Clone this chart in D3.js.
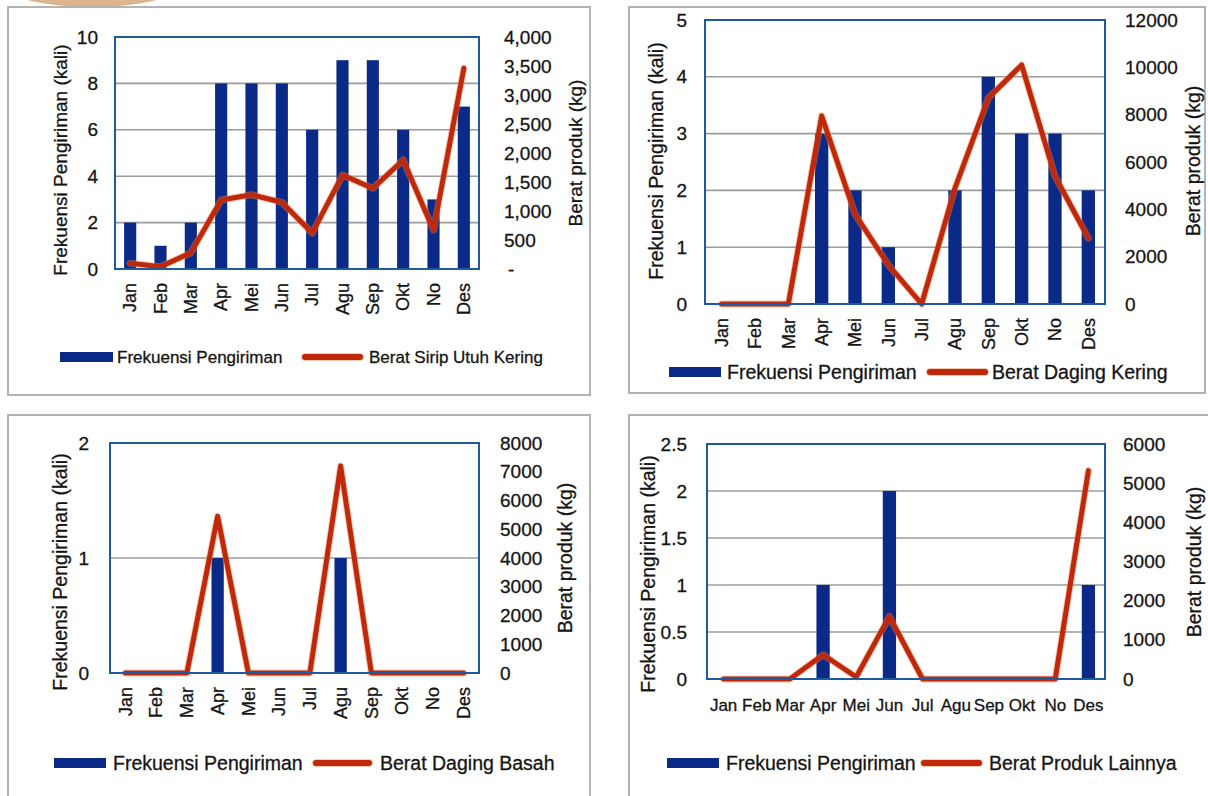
<!DOCTYPE html>
<html>
<head>
<meta charset="utf-8">
<script src="https://cdn.jsdelivr.net/npm/d3@7"></script>
<style>
  html, body { margin: 0; padding: 0; background: #ffffff; }
  svg text { font-family: "Liberation Sans", Arial, sans-serif; fill: #151515; stroke: #151515; stroke-width: 0.3px; }
</style>
</head>
<body>
<svg id="chart" width="1208" height="796"></svg>
<script>
// ---------------- DATA ----------------
const months = ["Jan","Feb","Mar","Apr","Mei","Jun","Jul","Agu","Sep","Okt","No","Des"];

const freqSirip = [2,1,2,8,8,8,6,9,9,6,3,7];
const beratSirip = [100,40,280,1190,1280,1150,620,1620,1390,1880,670,3460];

const freqDagingKering = [0,0,0,3,2,1,0,2,4,3,3,2];
const beratDagingKering = [0,0,0,7950,3800,1650,0,4900,8700,10100,5400,2780];

const freqDagingBasah = [0,0,0,1,0,0,0,1,0,0,0,0];
const beratDagingBasah = [0,0,0,5450,0,0,0,7200,0,0,0,0];

const freqLainnya = [0,0,0,1,0,2,0,0,0,0,0,1];
const beratLainnya = [0,0,0,620,50,1600,0,0,0,0,0,5320];

const freqTicks1 = [0,2,4,6,8,10];
const beratTicks1 = [0,500,1000,1500,2000,2500,3000,3500,4000];
const freqTicks2 = [0,1,2,3,4,5];
const beratTicks2 = [0,2000,4000,6000,8000,10000,12000];
const freqTicks3 = [0,1,2];
const beratTicks3 = [0,1000,2000,3000,4000,5000,6000,7000,8000];
const freqTicks4 = [0,0.5,1,1.5,2,2.5];
const beratTicks4 = [0,1000,2000,3000,4000,5000,6000];

const freqLabel = "Frekuensi Pengiriman";
const leftTitle = "Frekuensi Pengiriman (kali)";
const rightTitle = "Berat produk (kg)";
const seriesNames = ["Berat Sirip Utuh Kering","Berat Daging Kering","Berat Daging Basah","Berat Produk Lainnya"];

// ---------------- STYLE ----------------
const BAR = "#0b2a87";
const LINE = "#bf280b";
const GLOW = "#ec8a50";
const PLOTBORDER = "#1f5a9e";
const GRID = "#9c9c9c";
const FRAME = "#b3b3b3";

const svg = d3.select("#chart");

// decorative tan arc at top-left
svg.append("ellipse").attr("cx", 92).attr("cy", -22).attr("rx", 100).attr("ry", 29)
  .attr("fill", "#dcb58e");

function drawPanel(c) {
  const g = svg.append("g");
  g.append("rect").attr("x", c.frame[0]).attr("y", c.frame[1])
    .attr("width", c.frame[2]).attr("height", c.frame[3])
    .attr("fill", "#fff").attr("stroke", FRAME).attr("stroke-width", 2);

  const x = d3.scaleBand().domain(months).range([c.l, c.r]).paddingInner(0).paddingOuter(0);
  const yL = d3.scaleLinear().domain([c.freqTicks[0], c.freqTicks[c.freqTicks.length-1]]).range([c.b, c.t]);
  const yR = d3.scaleLinear().domain([c.beratTicks[0], c.beratTicks[c.beratTicks.length-1]]).range([c.b, c.t]);

  g.append("g").selectAll("line").data(c.freqTicks).join("line")
    .attr("x1", c.l).attr("x2", c.r)
    .attr("y1", d => yL(d)).attr("y2", d => yL(d))
    .attr("stroke", GRID).attr("stroke-width", 1.6);

  const bw = x.bandwidth() * 0.4;
  g.append("g").selectAll("rect").data(months.map((m, i) => ({m, v: c.freq[i]}))).join("rect")
    .attr("x", d => x(d.m) + x.bandwidth()/2 - bw/2)
    .attr("y", d => yL(d.v))
    .attr("width", bw)
    .attr("height", d => yL(0) - yL(d.v))
    .attr("fill", BAR);

  const pts = months.map((m, i) => [x(m) + x.bandwidth()/2, yR(c.berat[i])]);
  const lineGen = d3.line();
  g.append("path").attr("d", lineGen(pts)).attr("fill", "none")
    .attr("stroke", GLOW).attr("stroke-width", 7).attr("stroke-opacity", 0.45)
    .attr("stroke-linejoin", "round").attr("stroke-linecap", "round");
  g.append("path").attr("d", lineGen(pts)).attr("fill", "none")
    .attr("stroke", LINE).attr("stroke-width", 5)
    .attr("stroke-linejoin", "round").attr("stroke-linecap", "round");

  g.append("rect").attr("x", c.l).attr("y", c.t).attr("width", c.r - c.l).attr("height", c.b - c.t)
    .attr("fill", "none").attr("stroke", PLOTBORDER).attr("stroke-width", 2);

  const leftAxis = d3.axisLeft(yL).tickValues(c.freqTicks).tickSize(0).tickPadding(c.lpad)
    .tickFormat(c.freqFmt || (d => String(d)));
  const la = g.append("g").attr("transform", `translate(${c.l},0)`).call(leftAxis);
  la.select(".domain").remove();
  la.selectAll("text").attr("font-size", c.tickSize).attr("fill", "#151515")
    .style("font-family", "'Liberation Sans', Arial, sans-serif");

  const rightAxis = d3.axisRight(yR).tickValues(c.beratTicks).tickSize(0).tickPadding(c.rpad)
    .tickFormat(c.beratFmt || (d => String(d)));
  const ra = g.append("g").attr("transform", `translate(${c.r},0)`).call(rightAxis);
  ra.select(".domain").remove();
  ra.selectAll("text").attr("font-size", c.tickSize).attr("fill", "#151515")
    .style("font-family", "'Liberation Sans', Arial, sans-serif");
  if (c.zeroDash) {
    ra.selectAll("text").filter(d => d === 0).attr("dx", 4);
  }

  const xAxis = d3.axisBottom(x).tickSize(0).tickPadding(0);
  const xa = g.append("g").attr("transform", `translate(0,${c.b})`).call(xAxis);
  xa.select(".domain").remove();
  xa.selectAll("text").attr("font-size", c.xSize).attr("fill", "#151515")
    .style("font-family", "'Liberation Sans', Arial, sans-serif");
  if (c.rotate) {
    xa.selectAll("text")
      .attr("transform", `translate(0,${c.xOff}) rotate(-90)`)
      .attr("text-anchor", "end").attr("dy", "0.35em").attr("y", 0).attr("x", 0);
  } else {
    xa.selectAll("text").attr("y", c.xOff).attr("dy", "0.35em");
  }

  g.append("text").attr("transform", `translate(${c.ltx},${c.lty}) rotate(-90)`)
    .attr("text-anchor", "middle").attr("dy", "0.35em").attr("font-size", c.titleSize).text(leftTitle);
  g.append("text").attr("transform", `translate(${c.rtx},${c.rty}) rotate(-90)`)
    .attr("text-anchor", "middle").attr("dy", "0.35em").attr("font-size", c.titleSize).text(rightTitle);

  const lg = g.append("g");
  lg.append("rect").attr("x", c.leg[0]).attr("y", c.legY - 5).attr("width", c.leg[1] - c.leg[0]).attr("height", 10)
    .attr("fill", BAR);
  lg.append("text").attr("x", c.leg[2]).attr("y", c.legY).attr("dy", "0.35em")
    .attr("font-size", c.legSize).text(freqLabel);
  lg.append("line").attr("x1", c.leg[3]).attr("x2", c.leg[4]).attr("y1", c.legY).attr("y2", c.legY)
    .attr("stroke", GLOW).attr("stroke-width", 8).attr("stroke-opacity", 0.45).attr("stroke-linecap", "round");
  lg.append("line").attr("x1", c.leg[3]).attr("x2", c.leg[4]).attr("y1", c.legY).attr("y2", c.legY)
    .attr("stroke", LINE).attr("stroke-width", 6).attr("stroke-linecap", "round");
  lg.append("text").attr("x", c.leg[5]).attr("y", c.legY).attr("dy", "0.35em")
    .attr("font-size", c.legSize).text(c.name);
}

drawPanel({
  frame: [8, 7, 582, 388],
  l: 115, r: 479, t: 37, b: 269,
  freq: freqSirip, berat: beratSirip,
  freqTicks: freqTicks1, beratTicks: beratTicks1,
  beratFmt: d => d === 0 ? "-" : d3.format(",")(d), zeroDash: true,
  lpad: 17, rpad: 25, tickSize: 19,
  rotate: true, xOff: 14, xSize: 18,
  ltx: 60, lty: 160, rtx: 575, rty: 153, titleSize: 19,
  legY: 357, leg: [60, 113, 117, 305, 360, 369], legSize: 17,
  name: seriesNames[0]
});

drawPanel({
  frame: [629, 7, 576, 386],
  l: 705, r: 1105, t: 20, b: 304,
  freq: freqDagingKering, berat: beratDagingKering,
  freqTicks: freqTicks2, beratTicks: beratTicks2,
  lpad: 18, rpad: 20, tickSize: 19,
  rotate: true, xOff: 14, xSize: 18,
  ltx: 656, lty: 161, rtx: 1193, rty: 161, titleSize: 19.5,
  legY: 372, leg: [669, 721, 727, 930, 985, 992], legSize: 19.5,
  name: seriesNames[1]
});

drawPanel({
  frame: [8, 415, 582, 420],
  l: 110, r: 479, t: 443, b: 673,
  freq: freqDagingBasah, berat: beratDagingBasah,
  freqTicks: freqTicks3, beratTicks: beratTicks3,
  lpad: 21, rpad: 21, tickSize: 19,
  rotate: true, xOff: 14, xSize: 18,
  ltx: 60, lty: 572, rtx: 565, rty: 558, titleSize: 19.5,
  legY: 763, leg: [54, 106, 113, 316, 369, 380], legSize: 19.5,
  name: seriesNames[2]
});

drawPanel({
  frame: [629, 415, 620, 420],
  l: 707, r: 1105, t: 444, b: 679,
  freq: freqLainnya, berat: beratLainnya,
  freqTicks: freqTicks4, beratTicks: beratTicks4,
  lpad: 20, rpad: 18, tickSize: 19,
  rotate: false, xOff: 26, xSize: 17,
  ltx: 648, lty: 574, rtx: 1194, rty: 562, titleSize: 19.5,
  legY: 763, leg: [667, 719, 726, 924, 979, 989], legSize: 19.5,
  name: seriesNames[3]
});
</script>
</body>
</html>
